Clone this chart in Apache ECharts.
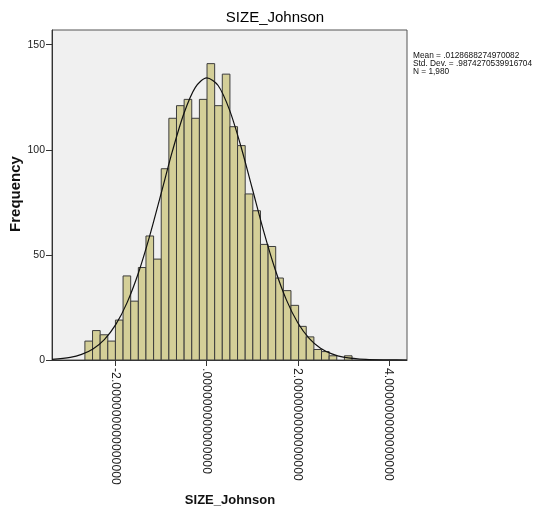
<!DOCTYPE html>
<html>
<head>
<meta charset="utf-8">
<script src="https://cdn.jsdelivr.net/npm/echarts@6/dist/echarts.min.js"></script>
<style>html,body{margin:0;padding:0;background:#fff}#c{width:535px;height:512px}</style>
</head>
<body>
<div id="c"></div>
<script>
// Histogram bins (frequency counts)
const binStart = -2.677;
const binWidth = 0.1677;
const counts = [9, 14, 12, 9, 19, 40, 28, 44, 59, 48,
                91, 115, 121, 124, 115, 124, 141, 121, 136, 111,
                102, 79, 71, 55, 54, 39, 33, 26, 16, 11,
                5, 4, 2, 0, 2];
// Fitted normal curve
const curveX = [-3.4, -3.0, -2.75, -2.5, -2.25, -2.0, -1.75, -1.5, -1.25, -1.0, -0.75, -0.5, -0.25, 0,
                0.25, 0.5, 0.75, 1.0, 1.25, 1.5, 1.75, 2.0, 2.25, 2.5, 2.75, 3.0, 3.5, 4.0, 4.4];
const curveY = [0.34, 1.28, 2.68, 5.27, 9.73, 16.8, 27.3, 41.5, 59.3, 79.4, 99.7, 117.4, 129.7, 134.2,
                130.6, 119.0, 101.7, 81.6, 61.3, 43.3, 28.6, 17.7, 10.3, 5.6, 2.9, 1.39, 0.26, 0.04, 0.0];
const xTicks = [-2, 0, 2, 4];
const xTickLabels = ['-2.000000000000000', '.000000000000000', '2.000000000000000', '4.000000000000000'];
const statLines = ['Mean = .0128688274970082', 'Std. Dev. = .9874270539916704', 'N = 1,980'];
const chartTitle = 'SIZE_Johnson';
const xTitle = 'SIZE_Johnson';
const yTitle = 'Frequency';

const barData = counts.map((c, i) => [binStart + i * binWidth, binStart + (i + 1) * binWidth, c]);
const curveData = curveX.map((x, i) => [x, curveY[i]]);

const chart = echarts.init(document.getElementById('c'), null, {renderer: 'canvas'});
const FONT = '"Liberation Sans", Arial, sans-serif';
chart.setOption({
  backgroundColor: '#ffffff',
  animation: false,
  title: {
    text: chartTitle, left: 270, top: 5, textAlign: 'center',
    textStyle: {fontFamily: FONT, fontSize: 15, fontWeight: 'normal', color: '#000'}
  },
  grid: {
    left: 52, top: 30, width: 355, height: 330,
    show: true, backgroundColor: '#F0F0F0', borderColor: '#555', borderWidth: 1
  },
  xAxis: {
    type: 'value', min: -3.4, max: 4.4,
    splitLine: {show: false},
    axisLine: {show: true, onZero: false, lineStyle: {color: '#333'}},
    axisTick: {show: true, length: 6, customValues: xTicks, lineStyle: {color: '#333'}},
    axisLabel: {
      customValues: xTicks, rotate: -90, margin: 8,
      fontFamily: FONT, fontSize: 12.3, color: '#222',
      formatter: v => { const k = xTicks.indexOf(Math.round(v)); return k >= 0 ? xTickLabels[k] : ''; }
    }
  },
  yAxis: {
    type: 'value', min: 0, max: 157, interval: 50,
    splitLine: {show: false},
    axisLine: {show: true, onZero: false, lineStyle: {color: '#333'}},
    axisTick: {show: true, length: 6, lineStyle: {color: '#333'}},
    axisLabel: {margin: 7, fontFamily: FONT, fontSize: 10.5, color: '#222', showMaxLabel: false}
  },
  graphic: [
    {type: 'text', left: 413, top: 52,
     style: {text: statLines.join('\n'), font: '8.3px ' + FONT, lineHeight: 7.8, fill: '#111'}},
    {type: 'text', x: 16, y: 194, rotation: Math.PI / 2,
     style: {text: yTitle, font: 'bold 15px ' + FONT, fill: '#111', align: 'center', verticalAlign: 'middle'}},
    {type: 'text', x: 230, y: 500,
     style: {text: xTitle, font: 'bold 13px ' + FONT, fill: '#111', align: 'center', verticalAlign: 'middle'}}
  ],
  series: [
    {
      type: 'custom', z: 2,
      data: barData,
      encode: {x: [0, 1], y: 2},
      renderItem: function (params, api) {
        const x0 = api.value(0), x1 = api.value(1), y = api.value(2);
        if (!y) return null;
        const p0 = api.coord([x0, y]);
        const p1 = api.coord([x1, 0]);
        return {
          type: 'rect',
          shape: {x: p0[0], y: p0[1], width: p1[0] - p0[0], height: p1[1] - p0[1]},
          style: {fill: '#D4CF98', stroke: '#3c3c3c', lineWidth: 1}
        };
      }
    },
    {
      type: 'line', z: 3, data: curveData, smooth: 0.3, showSymbol: false, symbol: 'none',
      lineStyle: {color: '#111', width: 1.2}
    }
  ]
});
</script>
</body>
</html>
